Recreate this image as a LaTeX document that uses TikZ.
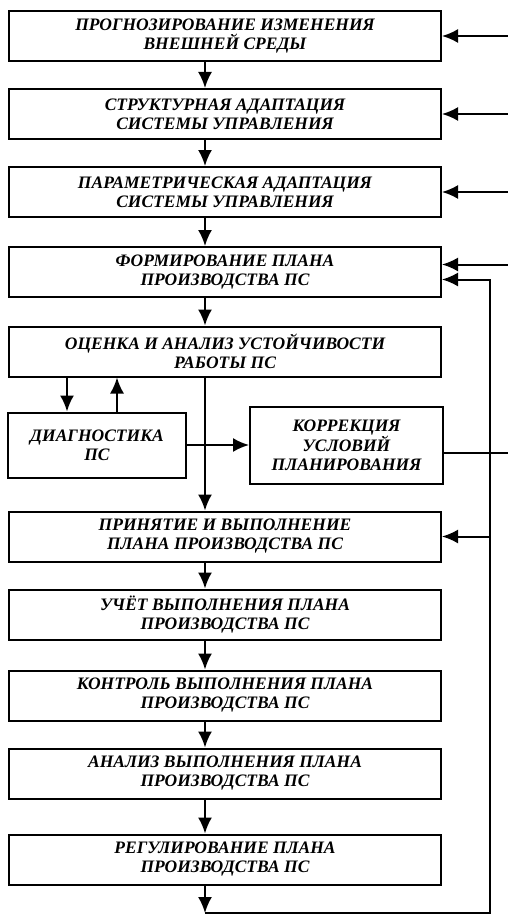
\documentclass[tikz,border=0pt]{standalone}
\usepackage{fontspec}
\setmainfont{Liberation Serif}
\usetikzlibrary{positioning, arrows.meta}
\tikzstyle{rec} = [rectangle, minimum width=432pt, minimum height=50pt, text centered, align=center, draw=black, line width=2pt, font=\fontsize{17.5}{19}\selectfont\bfseries\itshape]
\tikzstyle{arrow} = [line width=2pt,-{Latex[length=16pt,width=14pt]}]
\tikzstyle{line} = [line width=2pt]

\begin{document}
\begin{tikzpicture}[node distance=78pt]
		\useasboundingbox (0,0) rectangle (508pt,-915pt);
		\node (forecast) [rec] at (225pt,-36pt) {ПРОГНОЗИРОВАНИЕ ИЗМЕНЕНИЯ\\ВНЕШНЕЙ СРЕДЫ};
		\node (struct) [rec, below of=forecast] {СТРУКТУРНАЯ АДАПТАЦИЯ\\СИСТЕМЫ УПРАВЛЕНИЯ};
		\draw [arrow] ([xshift=-20pt]forecast.south) -- ([xshift=-20pt]struct.north);
		\node (param) [rec, below of=struct] {ПАРАМЕТРИЧЕСКАЯ АДАПТАЦИЯ\\СИСТЕМЫ УПРАВЛЕНИЯ};
		\draw [arrow] ([xshift=-20pt]struct.south) -- ([xshift=-20pt]param.north);
		\node (plan) [rec, below of=param, yshift=-2pt] {ФОРМИРОВАНИЕ ПЛАНА\\ПРОИЗВОДСТВА ПС};
		\draw [arrow] ([xshift=-20pt]param.south) -- ([xshift=-20pt]plan.north);
		\node (assess) [rec, below of=plan, yshift=-1.5pt] {ОЦЕНКА И АНАЛИЗ УСТОЙЧИВОСТИ\\РАБОТЫ ПС};
		\draw [arrow] ([xshift=-20pt]plan.south) -- ([xshift=-20pt]assess.north);
		\node (diag) [rec, minimum width=178pt, minimum height=65pt, below right=34pt and -1pt of assess.south west] {ДИАГНОСТИКА\\ПС};
		\draw [arrow] ([xshift=-30pt]diag.north |- assess.south) -- ([xshift=-30pt]diag.north);
		\draw [arrow] ([xshift=20pt]diag.north) -- ([xshift=20pt]diag.north |- assess.south);
		\node (korr) [rec, minimum width=193pt, minimum height=77pt, right=62pt of diag] {КОРРЕКЦИЯ\\УСЛОВИЙ\\ПЛАНИРОВАНИЯ};
		\node (accept) [rec, below of=assess, yshift=-107pt] {ПРИНЯТИЕ И ВЫПОЛНЕНИЕ\\ПЛАНА ПРОИЗВОДСТВА ПС};
		\draw [arrow] ([xshift=-20pt]assess.south) -- ([xshift=-20pt]accept.north);
		\draw [arrow] (diag.east) -- (korr.west);
		\node (account) [rec, below of=accept] {УЧЁТ ВЫПОЛНЕНИЯ ПЛАНА\\ПРОИЗВОДСТВА ПС};
		\draw [arrow] ([xshift=-20pt]accept.south) -- ([xshift=-20pt]account.north);
		\node (control) [rec, below of=account, yshift=-3pt] {КОНТРОЛЬ ВЫПОЛНЕНИЯ ПЛАНА\\ПРОИЗВОДСТВА ПС};
		\draw [arrow] ([xshift=-20pt]account.south) -- ([xshift=-20pt]control.north);
		\node (analysis) [rec, below of=control] {АНАЛИЗ ВЫПОЛНЕНИЯ ПЛАНА\\ПРОИЗВОДСТВА ПС};
		\draw [arrow] ([xshift=-20pt]control.south) -- ([xshift=-20pt]analysis.north);
		\node (regul) [rec, below of=analysis, yshift=-8pt] {РЕГУЛИРОВАНИЕ ПЛАНА\\ПРОИЗВОДСТВА ПС};
		\draw [arrow] ([xshift=-20pt]analysis.south) -- ([xshift=-20pt]regul.north);
		% inputs from the right edge
		\coordinate (edge) at (508pt,0);
		\coordinate (fb) at (490pt,0);
		\coordinate (bot) at (205pt,-913pt);
		\coordinate (hiin) at ([yshift=7.5pt]plan.east);
		\coordinate (lowin) at ([yshift=-7.5pt]plan.east);
		\draw [arrow] (forecast.east -| edge) -- (forecast.east);
		\draw [arrow] (struct.east -| edge) -- (struct.east);
		\draw [arrow] (param.east -| edge) -- (param.east);
		\draw [arrow] (hiin -| edge) -- (hiin);
		\coordinate (korrout) at ([yshift=-8pt]korr.east);
		\draw [line] (korrout) -- (korrout -| edge);
		% feedback loop
		\draw [arrow] ([xshift=-20pt]regul.south) -- (bot);
		\draw [arrow] (bot) -| (fb |- lowin) -- (lowin);
		\draw [arrow] (accept.east -| fb) -- (accept.east);
\end{tikzpicture}
\end{document}
